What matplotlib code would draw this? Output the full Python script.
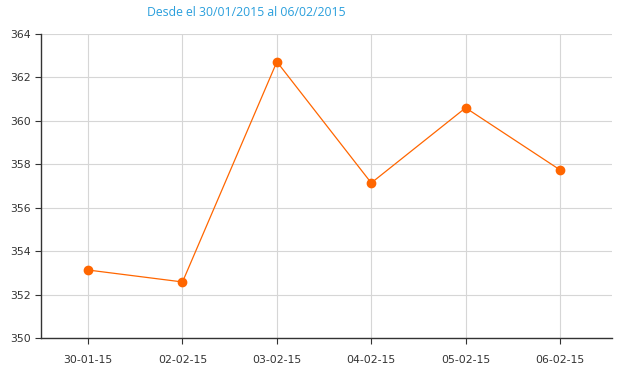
import matplotlib.pyplot as plt

fechas = ["30-01-15", "02-02-15", "03-02-15", "04-02-15", "05-02-15", "06-02-15"]
valores = [353.13, 352.58, 362.72, 357.14, 360.60, 357.74]
titulo = "Desde el 30/01/2015 al 06/02/2015"

fig = plt.figure(figsize=(6.2, 3.75), dpi=100)
ax = fig.add_axes([0.066, 0.0987, 0.921, 0.8107])

x = list(range(len(fechas)))
ax.plot(x, valores, color="#ff6600", lw=0.9, marker="o", ms=6, zorder=3)

ax.set_xlim(-0.5, len(fechas) - 0.45)
ax.set_ylim(350, 364)
ax.set_yticks(range(350, 365, 2))
ax.set_xticks(x)
ax.set_xticklabels(fechas)

ax.grid(True, color="#d6d6d6", lw=0.8)
ax.set_axisbelow(True)
for s in ["top", "right"]:
    ax.spines[s].set_visible(False)
for s in ["left", "bottom"]:
    ax.spines[s].set_color("#333333")
    ax.spines[s].set_linewidth(1.0)
ax.tick_params(axis="both", labelsize=7.8, colors="#333333", length=4, width=0.8)
ax.tick_params(axis="x", pad=8)

fig.text(0.397, 0.985, titulo, ha="center", va="top", color="#2a9fdc",
         fontsize=8.8, family="Open Sans")

fig.savefig("out.png", dpi=100)
